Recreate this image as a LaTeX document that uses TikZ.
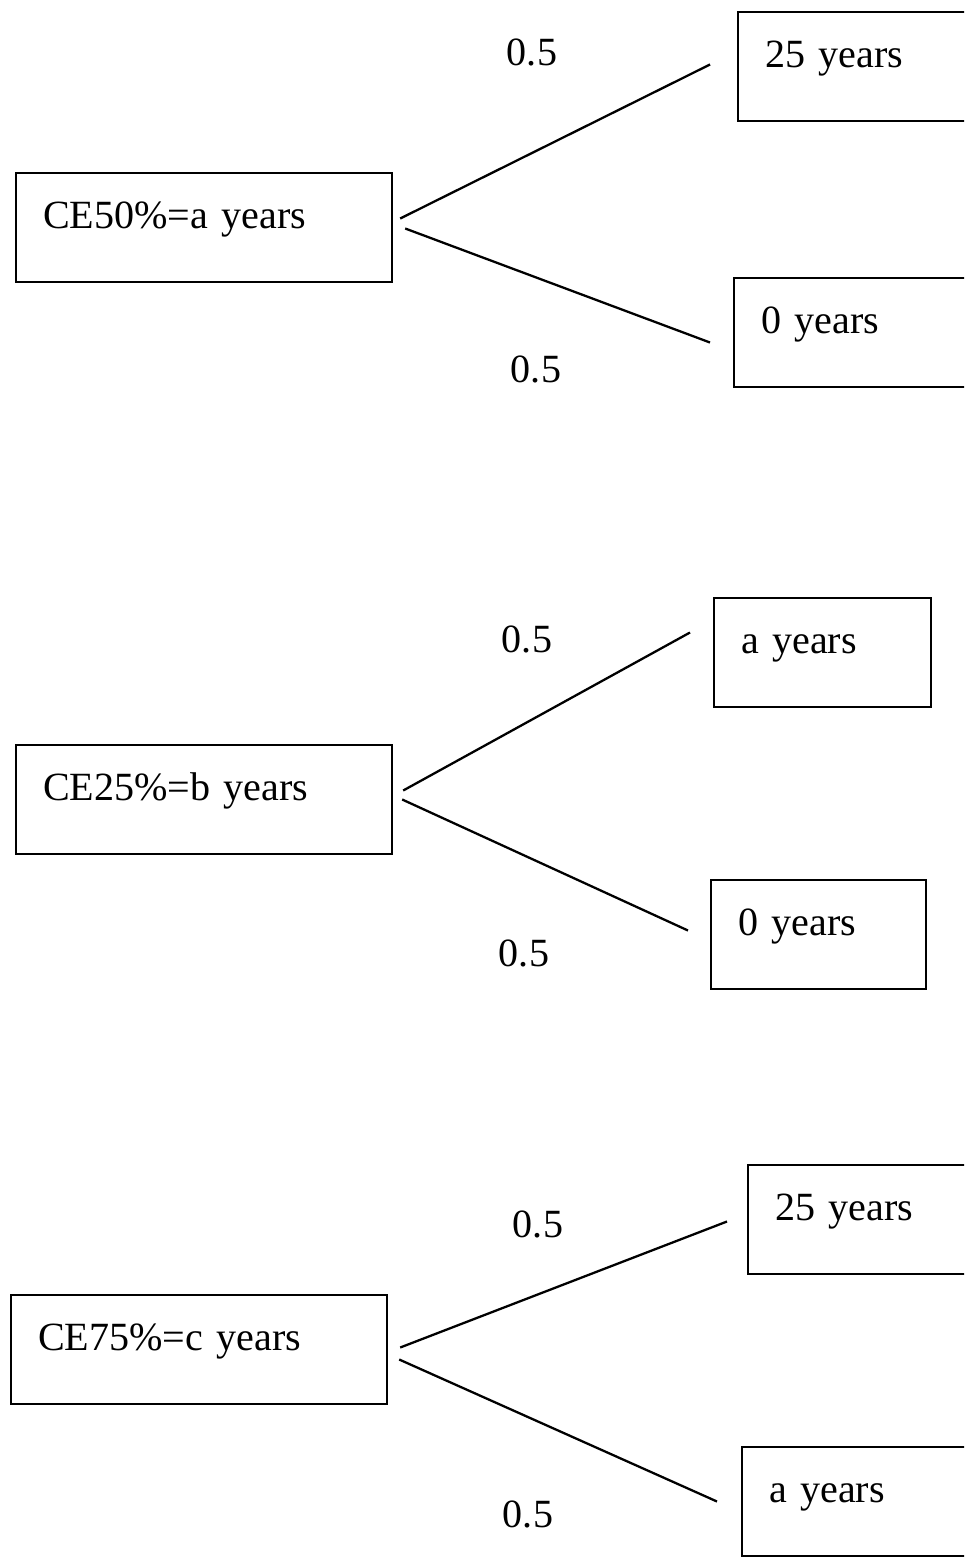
\documentclass[tikz,border=0pt]{standalone}
\usepackage{fontspec}
\setmainfont{Liberation Serif}
\usetikzlibrary{positioning}

\tikzset{
    box/.style = {draw, anchor=base west, align=left, inner xsep=0.54cm, inner ysep=0pt, text height=1.1cm, text depth=1.08cm},
    cebox/.style = {box, text width=6.44cm},
    yrbox/.style = {box, text width=#1},
    prob/.style = {anchor=base}
}

\begin{document}
\begin{tikzpicture}[x=0.02cm, y=-0.02cm, font=\fontsize{22.8}{28}\selectfont, line width=1.3pt]
                    \useasboundingbox (0, 0) rectangle (964, 1565);
                    \clip (0, 0) rectangle (964, 1565);

                    \node [cebox] (ce50) at (15, 228) {CE50\%=a years};
                    \node [yrbox=4.8cm] (top50) at (737, 67) {25 years};
                    \node [yrbox=4.8cm] (bot50) at (733, 333) {0 years};
                    \node [prob] (p50a) at (532, 65) {0.5};
                    \node [prob] (p50b) at (536, 382) {0.5};

                    \node [cebox] (ce25) at (15, 800) {CE25\%=b years};
                    \node [yrbox=3.26cm] (top25) at (713, 653) {a years};
                    \node [yrbox=3.22cm] (bot25) at (710, 935) {0 years};
                    \node [prob] (p25a) at (527, 652) {0.5};
                    \node [prob] (p25b) at (524, 966) {0.5};

                    \node [cebox] (ce75) at (10, 1350) {CE75\%=c years};
                    \node [yrbox=4.8cm] (top75) at (747, 1220) {25 years};
                    \node [yrbox=4.8cm] (bot75) at (741, 1502) {a years};
                    \node [prob] (p75a) at (538, 1237) {0.5};
                    \node [prob] (p75b) at (528, 1527) {0.5};

                    \draw ([shift={(7,-9)}]ce50.east) -- ([shift={(-27,-2)}]top50.west);
                    \draw ([shift={(12,1)}]ce50.east) -- ([shift={(-23,10)}]bot50.west);
                    \draw ([shift={(10,-9)}]ce25.east) -- ([shift={(-23,-20)}]top25.west);
                    \draw ([shift={(9,0)}]ce25.east) -- ([shift={(-22,-4)}]bot25.west);
                    \draw ([shift={(12,-2)}]ce75.east) -- ([shift={(-20,2)}]top75.west);
                    \draw ([shift={(11,10)}]ce75.east) -- ([shift={(-24,0)}]bot75.west);
                \end{tikzpicture}
\end{document}
